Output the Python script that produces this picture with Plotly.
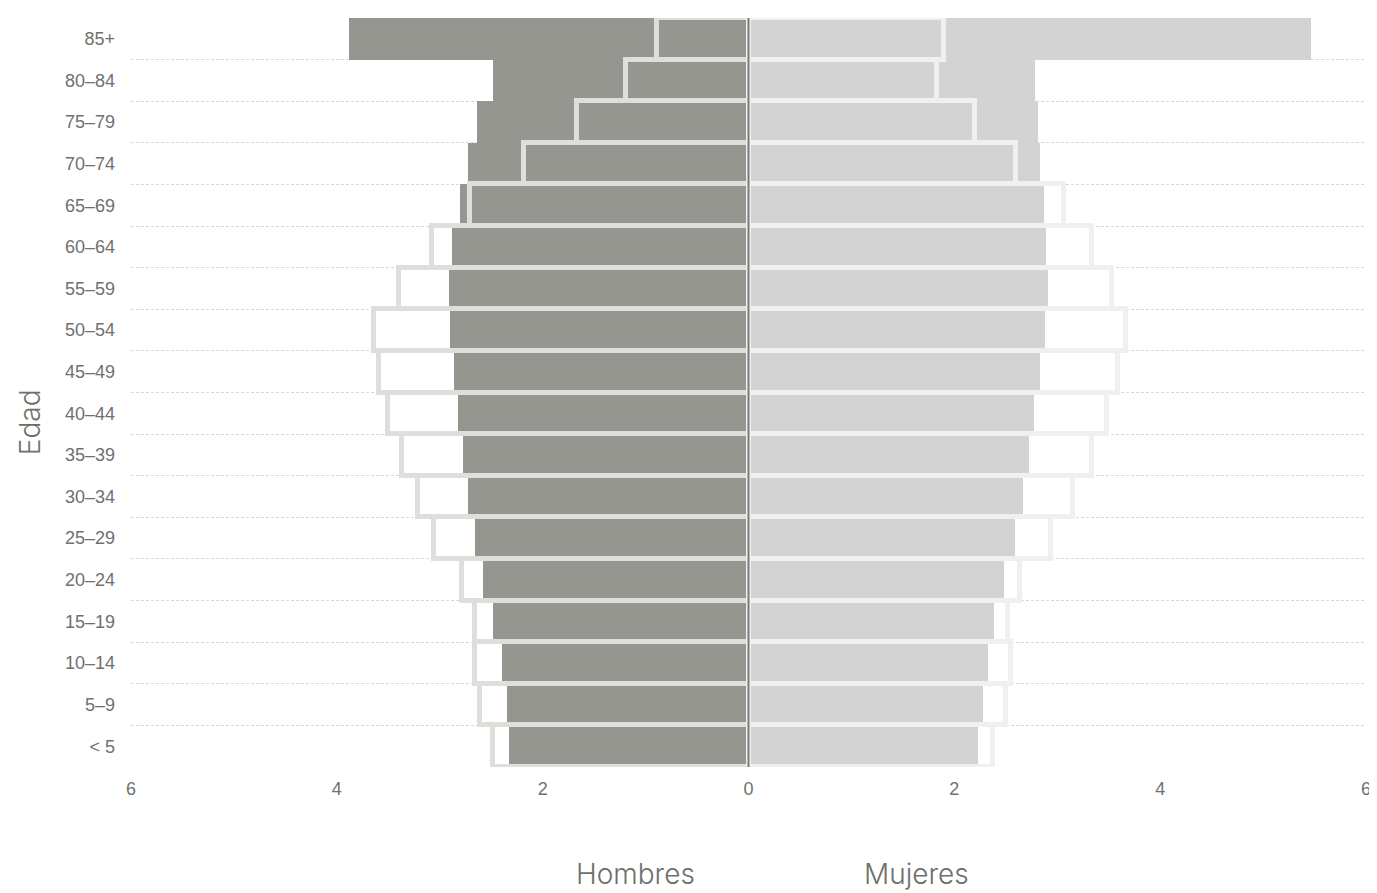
import plotly.graph_objects as go

ages = ['< 5', '5–9', '10–14', '15–19', '20–24', '25–29', '30–34', '35–39', '40–44',
        '45–49', '50–54', '55–59', '60–64', '65–69', '70–74', '75–79', '80–84', '85+']
men_fill = [2.33, 2.35, 2.40, 2.48, 2.58, 2.66, 2.73, 2.77, 2.82, 2.86, 2.90, 2.91, 2.88, 2.80, 2.73, 2.64, 2.48, 3.88]
men_outline = [2.48, 2.61, 2.66, 2.66, 2.78, 3.06, 3.21, 3.37, 3.50, 3.59, 3.64, 3.40, 3.08, 2.71, 2.18, 1.67, 1.19, 0.89]
women_fill = [2.23, 2.28, 2.33, 2.39, 2.48, 2.59, 2.67, 2.73, 2.77, 2.83, 2.88, 2.91, 2.89, 2.87, 2.83, 2.81, 2.78, 5.47]
women_outline = [2.38, 2.50, 2.55, 2.52, 2.64, 2.94, 3.15, 3.34, 3.48, 3.59, 3.67, 3.53, 3.34, 3.07, 2.60, 2.20, 1.83, 1.90]
x_ticks = [-6, -4, -2, 0, 2, 4, 6]
x_ticktext = ['6', '4', '2', '0', '2', '4', '6']

ypos = list(range(len(ages)))

fig = go.Figure()
fig.add_trace(go.Bar(y=ypos, x=[-v for v in men_fill], orientation='h', width=1,
                     marker=dict(color='#969691', line=dict(width=0)), name='Hombres'))
fig.add_trace(go.Bar(y=ypos, x=women_fill, orientation='h', width=1,
                     marker=dict(color='#d3d3d3', line=dict(width=0)), name='Mujeres'))
fig.add_trace(go.Bar(y=ypos, x=[-v for v in men_outline], orientation='h', width=1,
                     marker=dict(color='rgba(0,0,0,0)', line=dict(width=5, color='#dededa')), name='Hombres (ref)'))
fig.add_trace(go.Bar(y=ypos, x=women_outline, orientation='h', width=1,
                     marker=dict(color='rgba(0,0,0,0)', line=dict(width=5, color='#f0f0f0')), name='Mujeres (ref)'))

fig.add_shape(type='line', xref='x', yref='paper', x0=0, x1=0, y0=0, y1=1,
              line=dict(color='#7a7a78', width=2))

label_font = dict(family='Inter, Lato, sans-serif', size=28, color='#6f6f6a', weight=300)

fig.update_layout(
    width=1369, height=885,
    margin=dict(l=123, r=6, t=10, b=126),
    barmode='overlay', bargap=0,
    plot_bgcolor='white', paper_bgcolor='white',
    showlegend=False,
    font=dict(family='Liberation Sans, Arial, sans-serif', color='#666666', size=18),
    xaxis=dict(range=[-6, 6], tickvals=x_ticks, ticktext=x_ticktext, showgrid=False,
               zeroline=False, showline=False, ticks='', ticklabelstandoff=9,
               tickfont=dict(size=18, color='#707070'), fixedrange=True),
    yaxis=dict(range=[-0.5, len(ages) - 0.5], tickvals=ypos, ticktext=ages, showgrid=False,
               zeroline=False, showline=False, ticks='', ticklabelstandoff=15,
               tickfont=dict(size=18, color='#707070'),
               minor=dict(tickvals=[i - 0.5 for i in range(len(ages) + 1)], showgrid=True,
                          gridcolor='#d9d9d9', griddash='3px,2px', gridwidth=1, ticks='')),
    annotations=[
        dict(text='Edad', xref='paper', yref='paper', x=-0.0816, y=0.4606, textangle=-90,
             showarrow=False, xanchor='center', yanchor='middle', font=label_font),
        dict(text='Hombres', xref='paper', yref='paper', x=0.4087, y=-0.1429,
             showarrow=False, xanchor='center', yanchor='middle', font=label_font),
        dict(text='Mujeres', xref='paper', yref='paper', x=0.6357, y=-0.1429,
             showarrow=False, xanchor='center', yanchor='middle', font=label_font),
    ],
)

fig.write_html('out.html')
